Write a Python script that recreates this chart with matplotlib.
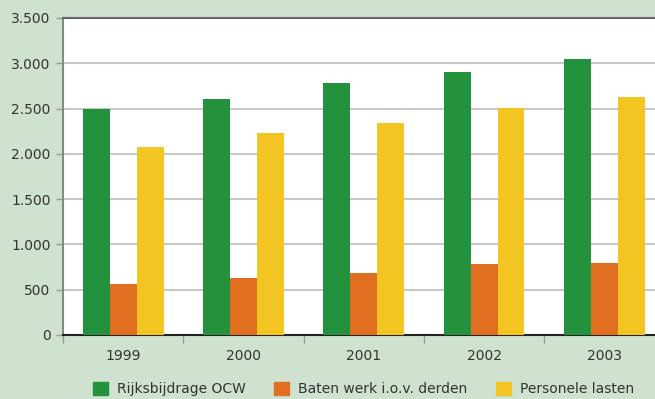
import numpy as np
import matplotlib.pyplot as plt
from matplotlib.patches import Patch

# Data
years = ['1999', '2000', '2001', '2002', '2003']
rijksbijdrage = [2500, 2605, 2780, 2905, 3050]
baten_derden = [565, 630, 685, 785, 795]
personele_lasten = [2075, 2230, 2340, 2505, 2630]
series_names = ['Rijksbijdrage OCW', 'Baten werk i.o.v. derden', 'Personele lasten']
colors = ['#24913c', '#e06f1f', '#f2c522']
yticks = [0, 500, 1000, 1500, 2000, 2500, 3000, 3500]
ytick_labels = ['0', '500', '1.000', '1.500', '2.000', '2.500', '3.000', '3.500']

bg = '#cfe2cf'
plt.rcParams['font.family'] = ['DejaVu Sans']

fig = plt.figure(figsize=(6.55, 3.99), dpi=100, facecolor=bg)
ax = fig.add_axes([63 / 655, 64 / 399, 601.5 / 655, 317 / 399])
ax.set_facecolor('white')

x = np.arange(len(years))
w = 0.224
for i, (vals, c) in enumerate(zip([rijksbijdrage, baten_derden, personele_lasten], colors)):
    ax.bar(x + (i - 1) * w, vals, width=w, color=c, zorder=3, label=series_names[i])

ax.set_xlim(-0.5, len(years) - 0.5)
ax.set_ylim(0, 3500)
ax.set_yticks(yticks)
ax.set_yticklabels(ytick_labels, fontsize=10, color='#333333')
ax.yaxis.grid(True, color='#c8c8c8', lw=1.5, zorder=0)

ax.set_xticks(x)
ax.set_xticklabels(years, fontsize=10, color='#333333')
ax.tick_params(axis='x', which='major', length=0, pad=10)
ax.set_xticks(np.arange(-0.5, len(years)), minor=True)
ax.tick_params(axis='x', which='minor', length=6, color='#999999', width=1)
ax.tick_params(axis='y', length=5, color='#999999', width=1, pad=4)

ax.spines['top'].set_color('#666666')
ax.spines['top'].set_linewidth(1.5)
ax.spines['right'].set_visible(False)
ax.spines['left'].set_color('#888888')
ax.spines['left'].set_linewidth(1.5)
ax.spines['bottom'].set_color('#222222')
ax.spines['bottom'].set_linewidth(1.5)

handles = [Patch(color=c) for c in colors]
fig.legend(handles, series_names, loc='lower left', bbox_to_anchor=(80 / 655, -0.025),
           ncol=3, frameon=False, fontsize=10, handlelength=1.1, handleheight=1.1,
           columnspacing=2.05, handletextpad=0.65, labelcolor='#333333')

fig.savefig('out.png', dpi=100, facecolor=bg)
